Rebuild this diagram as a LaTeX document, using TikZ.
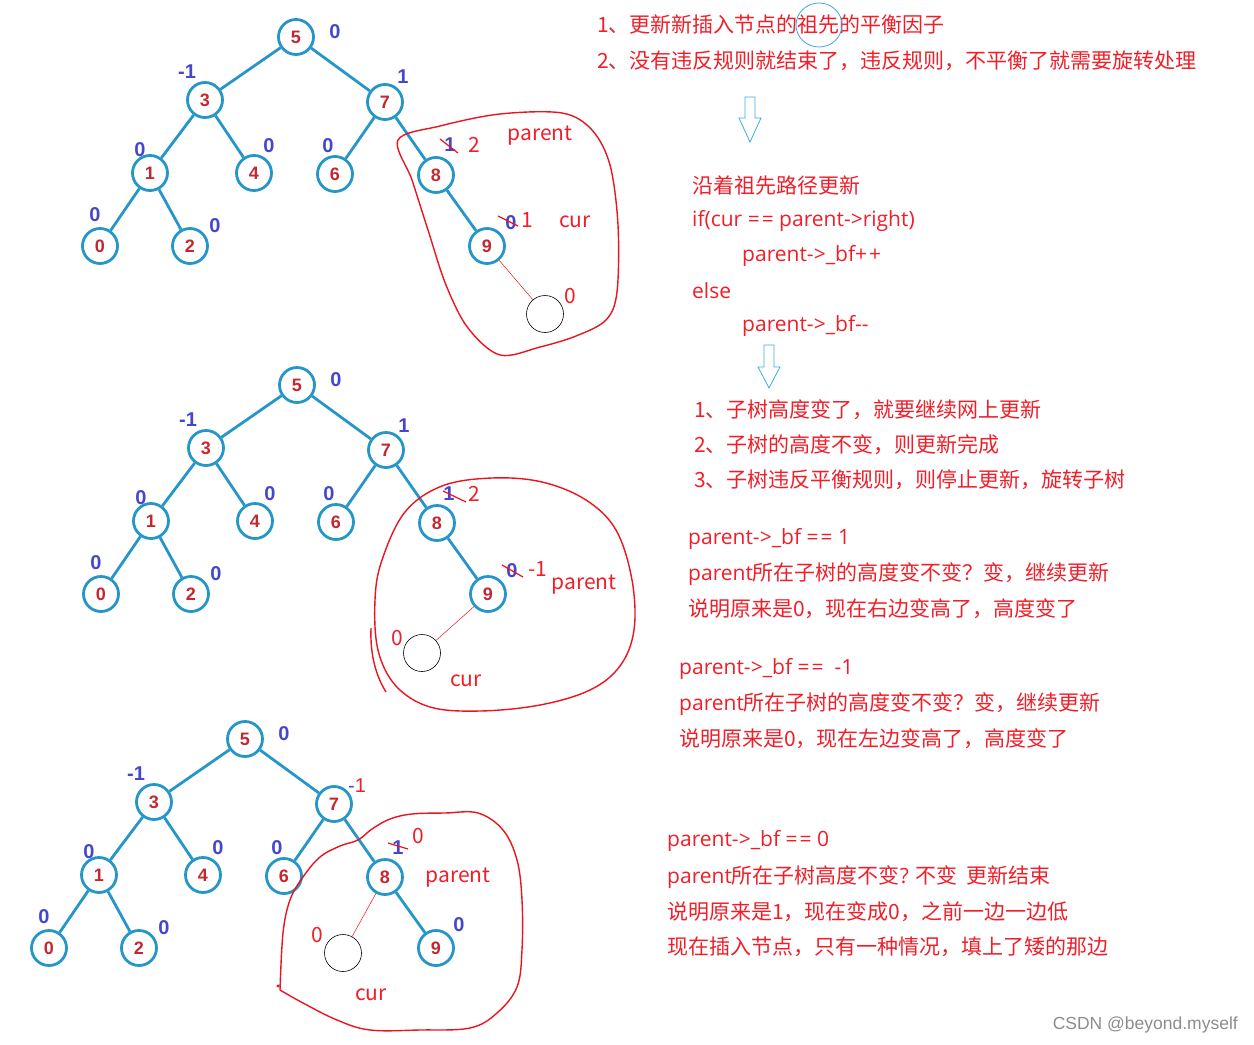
\documentclass[tikz,border=0pt]{standalone}
\usepackage{fontspec}
\setmainfont{Noto Sans CJK SC}
\newfontfamily\digitfont{Liberation Sans}
\newfontfamily\latfont{Open Sans}
\newcommand\lt[1]{{\latfont #1}}
\newcommand\eqeq{=\kern2pt=}
\definecolor{treeblue}{RGB}{38,150,200}
\definecolor{keyred}{RGB}{195,40,50}
\definecolor{bfblue}{RGB}{70,70,205}
\definecolor{txtred}{RGB}{240,30,40}
\definecolor{lassored}{RGB}{235,20,30}
\definecolor{arrowblue}{RGB}{60,170,230}
\tikzset{
  tnode/.style={circle,draw=treeblue,line width=2.8pt,minimum size=35pt,inner sep=0pt,text=keyred,font=\digitfont\bfseries\fontsize{18}{18}\selectfont},
  tedge/.style={draw=treeblue,line width=2.8pt},
  bf/.style={text=bfblue,inner sep=0pt,font=\digitfont\bfseries\fontsize{20}{20}\selectfont},
  redlbl/.style={text=txtred,inner sep=0pt,font=\fontsize{21}{21}\selectfont},
  newnode/.style={circle,draw=black,line width=0.6pt,minimum size=37pt,inner sep=0pt},
  newedge/.style={draw=lassored,line width=0.5pt},
  strike/.style={draw=lassored,line width=1.2pt},
  lasso/.style={draw=lassored,line width=1.4pt},
  hollow/.style={draw=arrowblue,line width=0.8pt,fill=white},
  note/.style={anchor=west,text=txtred,inner sep=0pt,font=\fontsize{21}{25}\selectfont},
}
\begin{document}
\begin{tikzpicture}[x=1pt,y=-1pt]
  \useasboundingbox (0,0) rectangle (1254,1045);
  % three copies of the tree
  \foreach \i/\dx/\dy in {1/0/0,2/1/348,3/-51/702}{
    \foreach \v/\x/\y in {5/296/37,3/205/100,7/385/102,1/150/173,4/254/173,6/335/174,8/436/175,0/100/246,2/190/246,9/487/246}
      \node[tnode] (t\i-\v) at (\x+\dx,\y+\dy) {\v};
    \foreach \a/\b in {5/3,5/7,3/1,3/4,7/6,7/8,1/0,1/2,8/9}
      \draw[tedge] (t\i-\a) -- (t\i-\b);
    \foreach \v/\x/\y/\l in {5/335/32/0,3/187/72/-1,1/140/150/0,4/269/146/0,6/328/146/0,0/95/215/0,2/215/226/0}
      \node[bf] (t\i-b\v) at (\x+\dx,\y+\dy) {\l};
  }
  \node[bf] (t1-b7) at (403,77) {1};
  \node[bf] (t2-b7) at (404,426) {1};
  \node[bf] (t3-b7) at (357,786) {\color{bfblue}\mdseries-\color{txtred}1};

  % tree 1: insert right of 9
  \node[bf] (t1-b8) at (450,145) {1};
  \draw[strike] (440,139) -- (458,153);
  \node[redlbl] (t1-r8) at (474,145) {2};
  \node[redlbl] (t1-par) at (540,136) {parent};
  \node[bf] (t1-b9) at (511,223) {0};
  \draw[strike] (498,216) -- (518,226);
  \node[redlbl] (t1-r9) at (527,220) {1};
  \node[redlbl] (t1-cur) at (575,222) {cur};
  \node[newnode] (t1-new) at (545,314) {};
  \node[redlbl] (t1-rn) at (570,296) {0};
  \draw[newedge] (t1-9) -- (t1-new);
  \draw[lasso] plot[smooth cycle,tension=0.55] coordinates {(398,140)(440,126)(500,114)(562,113)(592,130)(610,165)(618,225)(617,292)(606,320)(576,336)(540,347)(500,355)(468,328)(446,285)(428,230)(412,180)};

  % tree 2: insert left of 9
  \node[bf] (t2-b8) at (449,494) {1};
  \draw[strike] (443,491) -- (466,502);
  \node[redlbl] (t2-r8) at (474,494) {2};
  \node[bf] (t2-b9) at (512,571) {0};
  \draw[strike] (502,565) -- (523,577);
  \node[redlbl] (t2-r9) at (538,569) {-1};
  \node[redlbl] (t2-par) at (584,585) {parent};
  \node[newnode] (t2-new) at (422,653) {};
  \node[redlbl] (t2-rn) at (397,638) {0};
  \node[redlbl] (t2-cur) at (466,681) {cur};
  \draw[newedge] (t2-9) -- (t2-new);
  \draw[lasso] plot[smooth cycle,tension=0.6] coordinates {(382,560)(405,512)(442,486)(492,478)(542,482)(586,500)(616,530)(632,580)(634,630)(620,666)(590,690)(540,705)(480,711)(430,707)(396,686)(378,650)(375,600)};
  \draw[lasso] (371,628) .. controls (370,655) and (376,676) .. (386,692);

  % tree 3: insert left of 8
  \node[bf] (t3-b8) at (398,848) {1};
  \draw[strike] (388,843) -- (408,849);
  \node[redlbl] (t3-r8) at (418,836) {0};
  \node[redlbl] (t3-par) at (458,878) {parent};
  \node[bf] (t3-b9) at (459,925) {0};
  \node[newnode] (t3-new) at (343,953) {};
  \node[redlbl] (t3-rn) at (317,935) {0};
  \node[redlbl] (t3-cur) at (371,995) {cur};
  \draw[newedge] (t3-8) -- (t3-new);
  \draw[lasso] plot[smooth,tension=0.6] coordinates {(280,990)(283,933)(290,900)(303,877)(320,857)(340,846)(358,840)(372,829)(390,819)(412,814)(445,813)(478,813)(503,830)(517,860)(522,900)(522,950)(517,987)(497,1013)(470,1028)(420,1030)(370,1030)(337,1020)(303,1003)(280,990)};
  \fill[lassored] (278,986) circle (1.6);

  % notes on the right
  \node[note] (h1) at (597,25) {1、更新新插入节点的祖先的平衡因子};
  \node[note] (h2) at (597,61) {2、没有违反规则就结束了，违反规则，不平衡了就需要旋转处理};
  \draw[draw=arrowblue,line width=0.8pt] (819,25) ellipse (23 and 22);
  \draw[hollow] (745,97) -- (755,97) -- (755,118) -- (761,118) -- (750,142) -- (739,118) -- (745,118) -- cycle;
  \node[note] (c1) at (692,186) {沿着祖先路径更新};
  \node[note] (c2) at (692,221) {\lt{if(cur \eqeq{} parent->right)}};
  \node[note] (c3) at (742,256) {\lt{parent->\_bf+\kern2pt+}};
  \node[note] (c4) at (692,291) {\lt{else}};
  \node[note] (c5) at (742,326) {\lt{parent->\_bf{-}{-}}};
  \draw[hollow] (764,345) -- (774,345) -- (774,367) -- (780,367) -- (769,388) -- (758,367) -- (764,367) -- cycle;
  \node[note] (r1) at (694,410) {1、子树高度变了，就要继续网上更新};
  \node[note] (r2) at (694,445) {2、子树的高度不变，则更新完成};
  \node[note] (r3) at (694,480) {3、子树违反平衡规则，则停止更新，旋转子树};
  \node[note] (p1) at (688,539) {\lt{parent->\_bf \eqeq{} 1}};
  \node[note] (p2) at (688,574) {\lt{parent}所在子树的高度变不变？变，继续更新};
  \node[note] (p3) at (688,609) {说明原来是0，现在右边变高了，高度变了};
  \node[note] (m1) at (679,669) {\lt{parent->\_bf \eqeq\ \ -1}};
  \node[note] (m2) at (679,704) {\lt{parent}所在子树的高度变不变？变，继续更新};
  \node[note] (m3) at (679,739) {说明原来是0，现在左边变高了，高度变了};
  \node[note] (z1) at (667,841) {\lt{parent->\_bf \eqeq{} 0}};
  \node[note] (z2) at (667,877) {\lt{parent}所在子树高度不变\lt{?} 不变\ \ 更新结束};
  \node[note] (z3) at (667,912) {说明原来是1，现在变成0，之前一边一边低};
  \node[note] (z4) at (667,947) {现在插入节点，只有一种情况，填上了矮的那边};
  \node[anchor=east,text=black!45,inner sep=0pt,font=\digitfont\fontsize{17.5}{17.5}\selectfont] (mark) at (1238,1025) {CSDN @beyond.myself};
\end{tikzpicture}
\end{document}
